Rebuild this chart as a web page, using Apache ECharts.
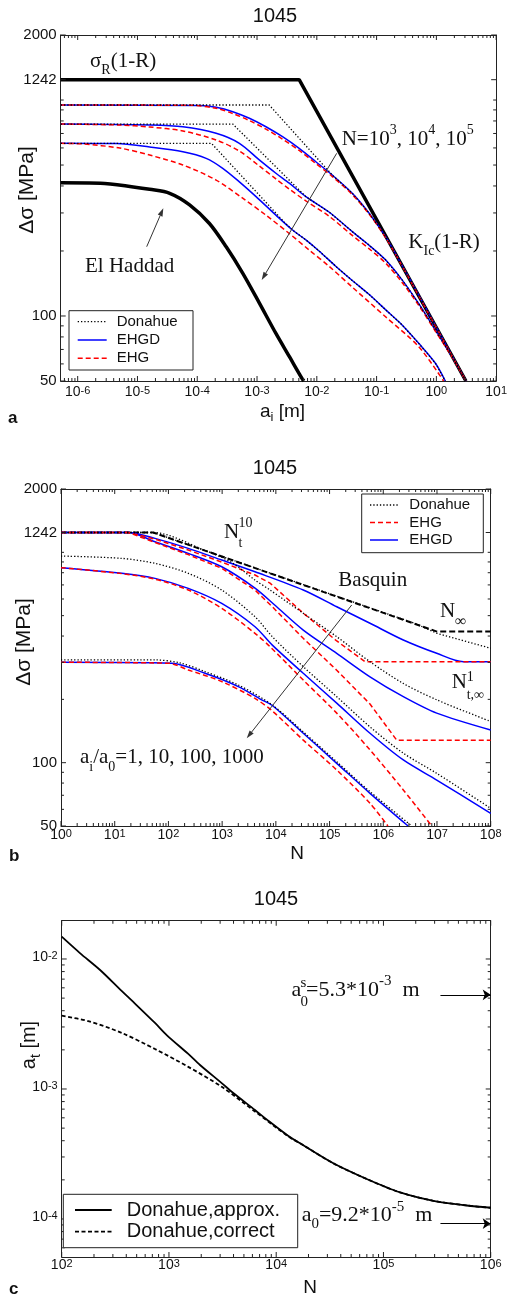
<!DOCTYPE html>
<html>
<head>
<meta charset="utf-8">
<script src="https://cdn.jsdelivr.net/npm/echarts@6/dist/echarts.min.js"></script>
<style>
  html, body { margin: 0; padding: 0; background: #fff; }
  #chart { width: 510px; height: 1297px; }
</style>
</head>
<body>
<div id="chart"></div>
<script>
// ---------------- Panel a: threshold stress range vs. initial crack length ----------------
const aXTicks = [1e-6, 1e-5, 1e-4, 1e-3, 1e-2, 1e-1, 1, 10];
const aYTicks = [50, 100, 1242, 2000];
const aLimit = [[5.2e-7,1242],[5.07e-3,1242],[3.12,50]];
const aElHaddad = [[5.2e-7,414],[2.4e-6,412],[8.5e-6,396],[1.6e-5,386],[3.46e-5,370],[7.45e-5,327],[1.6e-4,268],[3.05e-4,209],[5.75e-4,158],[1.09e-3,115],[2.07e-3,83],[3.46e-3,65],[5.75e-3,51],[6.1e-3,50]];
const aDonahueN3 = [[5.2e-7,948],[1.6e-3,948],[1.82e-2,449],[3.92e-2,370],[7.45e-2,300],[0.141,233],[0.275,169],[0.507,125],[3.12,50]];
const aEhgdN3 = [[5.2e-7,948],[1.09e-4,943],[2.07e-4,925],[3.93e-4,883],[7.45e-4,823],[1.41e-3,752],[2.67e-3,676],[5.07e-3,597],[9.63e-3,518],[1.82e-2,449],[3.92e-2,370],[7.45e-2,300],[0.141,233],[0.275,169],[0.507,125],[3.12,50]];
const aEhgN3 = [[5.2e-7,948],[8e-5,945],[2.07e-4,915],[3.93e-4,866],[7.45e-4,803],[1.41e-3,733],[2.67e-3,659],[5.07e-3,584],[9.63e-3,508],[1.82e-2,442],[3.92e-2,365],[7.45e-2,297],[0.141,231],[0.275,168],[0.507,124],[3.12,50]];
const aDonahueN4 = [[5.2e-7,774],[3.93e-4,774],[6.56e-3,357],[1.6e-2,303],[3.92e-2,246],[7.45e-2,213],[0.141,182],[0.267,147],[0.507,114],[0.964,86],[1.82,64.8],[3.12,50]];
const aEhgdN4 = [[5.2e-7,774],[1.6e-5,766],[5.75e-5,752],[2.07e-4,701],[5.07e-4,630],[1.09e-3,528],[2.07e-3,458],[3.46e-3,412],[6.56e-3,357],[1.6e-2,303],[3.92e-2,246],[7.45e-2,213],[0.141,182],[0.267,147],[0.507,114],[0.964,86],[1.82,64.8],[3.12,50]];
const aEhgN4 = [[5.2e-7,774],[5.07e-6,766],[1.6e-5,750],[5.75e-5,719],[2.07e-4,653],[5.07e-4,580],[1.09e-3,495],[2.07e-3,431],[3.46e-3,387],[6.56e-3,341],[1.6e-2,290],[3.92e-2,236],[7.45e-2,205],[0.141,176],[0.267,143],[0.507,112],[0.964,85],[1.82,64.6],[3.12,50]];
const aDonahueN5 = [[5.2e-7,630],[1.73e-4,630],[2.85e-3,272],[3.93e-3,250],[6.56e-3,225],[1.09e-2,200],[2.07e-2,170],[3.92e-2,146],[7.45e-2,126],[0.141,107],[0.267,90.9],[0.507,74.7],[0.964,60.4],[1.41,50]];
const aEhgdN5 = [[5.2e-7,630],[4.52e-6,629],[1.6e-5,606],[5.75e-5,576],[1.41e-4,537],[2.67e-4,483],[5.07e-4,418],[9.63e-4,357],[2.07e-3,293],[3.93e-3,250],[6.56e-3,225],[1.09e-2,200],[2.07e-2,170],[3.92e-2,146],[7.45e-2,126],[0.141,107],[0.267,90.9],[0.507,74.7],[0.964,60.4],[1.41,50]];
const aEhgN5 = [[5.2e-7,630],[1.23e-6,626],[5.07e-6,599],[1.6e-5,556],[5.75e-5,500],[2.07e-4,426],[5.75e-4,351],[1.41e-3,293],[3.46e-3,241],[7.45e-3,202],[1.6e-2,170],[3.92e-2,136],[0.141,99.2],[0.507,72.1],[1.32,50]];

// ---------------- Panel b: stress range vs. number of cycles ----------------
const bXTicks = [1, 10, 100, 1e3, 1e4, 1e5, 1e6, 1e7, 1e8];
const bYTicks = [50, 100, 1242, 2000];
const bBasquin = [[1,1242],[52,1242],[1e7,420],[1e8,420]];
const bDonahue1 = [[1,1242],[52,1242],[1e6,518],[4e6,458],[1e7,412],[3.6e7,376],[1e8,350]];
const bEhgd1 = [[1,1242],[17.9,1242],[56.2,1165],[234,1044],[982,919],[4093,808],[3.24e4,662],[1.36e5,551],[5.66e5,460],[2.36e6,383],[9.89e6,331],[3.09e7,302],[1e8,302]];
const bEhg1 = [[1,1242],[17.9,1242],[56.2,1156],[234,1025],[982,899],[4093,780],[7787,714],[3.24e4,514],[1.36e5,379],[4.57e5,302],[1e8,302]];
const bDonahue10 = [[1,1242],[52,1242],[500,1016],[1500,895],[4093,738],[7787,662],[3.24e4,513],[1.36e5,397],[5.66e5,302],[2.36e6,238],[9.89e6,199],[1e8,157]];
const bEhgd10 = [[1,1242],[17.9,1242],[56.2,1122],[234,989],[982,854],[4093,676],[9645,560],[3.24e4,427],[1.36e5,331],[5.66e5,256],[2.36e6,206],[9.89e6,172],[1e8,143]];
const bEhg10 = [[1,1242],[17.9,1242],[56.2,1115],[234,975],[982,840],[4093,662],[8600,551],[3.24e4,390],[1.36e5,275],[5.66e5,190],[1.78e6,128],[1e8,128]];
const bDonahue100 = [[1,960],[13.5,936],[56.2,886],[234,795],[982,662],[4093,494],[8600,397],[3.24e4,286],[1.36e5,206],[5.66e5,148],[2.36e6,111],[9.89e6,89],[1e8,60.7]];
const bEhgd100 = [[1,845],[13.5,795],[56.2,752],[234,674],[982,572],[4093,443],[8600,362],[3.24e4,266],[1.36e5,192],[5.66e5,138],[2.36e6,103],[9.89e6,82.7],[1e8,57.4]];
const bEhg100 = [[1,845],[13.5,792],[56.2,745],[234,662],[982,542],[4093,412],[7787,356],[3.24e4,247],[1.36e5,172],[5.66e5,115],[2.36e6,74.2],[8e6,50]];
const bDonahue1000 = [[1,308],[56.2,308],[164,298],[480,271],[2000,234],[8600,188],[3.24e4,140],[1.36e5,101],[5.66e5,72.8],[3.4e6,50]];
const bEhgd1000 = [[1,300],[115,297],[480,266],[2000,230],[5454,199],[8600,187],[3.24e4,138],[1.36e5,99.3],[5.66e5,71.5],[2.9e6,50]];
const bEhg1000 = [[1,300],[100,297],[234,276],[982,243],[4093,202],[8600,176],[3.24e4,128],[1.36e5,92.3],[5.66e5,64.1],[1.22e6,50]];

// ---------------- Panel c: transition crack length vs. number of cycles ----------------
const cXTicks = [100, 1e3, 1e4, 1e5, 1e6];
const cYTicks = [1e-4, 1e-3, 1e-2];
const cApprox = [[100,1.484e-2],[148,1.11e-2],[228,8.23e-3],[362,5.68e-3],[465,4.67e-3],[741,3.22e-3],[953,2.60e-3],[1514,1.86e-3],[1948,1.53e-3],[3102,1.11e-3],[3981,9.31e-4],[6339,6.89e-4],[8147,5.83e-4],[1.30e4,4.35e-4],[1.67e4,3.82e-4],[3.41e4,2.68e-4],[6.98e4,2.03e-4],[1.43e5,1.60e-4],[2.92e5,1.38e-4],[5.97e5,1.27e-4],[1e6,1.22e-4]];
const cCorrect = [[100,3.66e-3],[177,3.33e-3],[362,2.70e-3],[741,2.03e-3],[1514,1.48e-3],[3102,1.04e-3],[6339,6.71e-4],[1.30e4,4.31e-4],[1.67e4,3.82e-4],[3.41e4,2.68e-4],[6.98e4,2.03e-4],[1.43e5,1.60e-4],[2.92e5,1.38e-4],[5.97e5,1.27e-4],[1e6,1.22e-4]];
const cA0s = 5.3e-3;   // a0^s
const cA0 = 9.2e-5;    // a0

// ---------------- styling ----------------
const SANS = '"Liberation Sans", Arial, Helvetica, sans-serif';
const SERIF = '"Liberation Serif", "Times New Roman", Times, serif';
const INK = '#111';
const FRAME = '#222';
const K_SERIF = 0.3375, K_SANS = 0.3465;   // baseline offset from text middle, in em

const ST = {
  donahue: { color: '#000', width: 1.3, type: [1.3, 2] },
  ehgd:    { color: '#0000ff', width: 1.5, type: 'solid' },
  ehg:     { color: '#ff0000', width: 1.5, type: [5, 3] },
  heavy:   { color: '#000', width: 3.5, type: 'solid' },
  basquin: { color: '#000', width: 2, type: [6, 3] },
  approx:  { color: '#000', width: 1.8, type: 'solid' },
  correct: { color: '#000', width: 1.8, type: [4, 2.5] }
};

// minor ticks at 2..9 (and unlabelled decades) inside [min, max]
function logMinor(min, max, skip) {
  const out = [];
  for (let d = Math.floor(Math.log10(min)) - 1; d <= Math.ceil(Math.log10(max)); d++) {
    for (let k = 1; k <= 9; k++) {
      const v = parseFloat((k * Math.pow(10, d)).toPrecision(6));
      if (v >= min * 0.9999 && v <= max * 1.0001 && !skip.some(s => Math.abs(s - v) / v < 1e-6)) out.push(v);
    }
  }
  return out;
}

const powRich = {
  b: { fontSize: 14, fontFamily: SANS, lineHeight: 14, verticalAlign: 'bottom', color: INK },
  e: { fontSize: 11, fontFamily: SANS, lineHeight: 11, verticalAlign: 'top', padding: [0, 0, 10, 0], color: INK }
};
function powLabel(v) { return '{b|10}{e|' + Math.round(Math.log10(v)) + '}'; }

// labelled axis plus a plain mirrored axis for the box frame
function axisPair(dim, gridIndex, min, max, major, label) {
  const base = {
    type: 'log', logBase: 10, gridIndex, min, max, silent: true,
    splitLine: { show: false }, minorTick: { show: false }, minorSplitLine: { show: false },
    axisTick: { show: false },
    axisLine: { show: true, onZero: false, lineStyle: { color: FRAME, width: 1 } }
  };
  const p1 = dim === 'x' ? 'bottom' : 'left';
  const p2 = dim === 'x' ? 'top' : 'right';
  return [
    Object.assign({}, base, { position: p1, axisLabel: Object.assign({ show: true, customValues: major }, label) }),
    Object.assign({}, base, { position: p2, axisLabel: { show: false } })
  ];
}

const xLabelCfg = m => ({ formatter: powLabel, rich: powRich, margin: m, color: INK });
const yNumCfg = { formatter: v => String(v), fontSize: 15, fontFamily: SANS, color: INK, margin: 4 };
const yPowCfg = { formatter: powLabel, rich: powRich, margin: 4, padding: [0, 0, 4, 0], color: INK };

const xAxes = [].concat(
  axisPair('x', 0, 5.2e-7, 10, aXTicks, xLabelCfg(4.3)),
  axisPair('x', 1, 1, 1e8, bXTicks, xLabelCfg(2.6)),
  axisPair('x', 2, 100, 1e6, cXTicks, xLabelCfg(1.6))
);
const yAxes = [].concat(
  axisPair('y', 0, 50, 2000, aYTicks, yNumCfg),
  axisPair('y', 1, 50, 2000, bYTicks, yNumCfg),
  axisPair('y', 2, 5.1e-5, 1.97e-2, cYTicks, yPowCfg)
);

function curve(name, data, panel, style, z, smooth) {
  return {
    type: 'line', name, data, xAxisIndex: panel * 2, yAxisIndex: panel * 2,
    symbol: 'none', showSymbol: false, silent: true, z: z || 2, smooth: smooth || false,
    lineStyle: Object.assign({}, style), emphasis: { disabled: true }
  };
}
const SM = 0.3;

// inward tick marks (major 5px, minor 3px) on all four sides of a panel:
// thin rect symbols anchored on the frame edges and offset into the plot
function tickSeries(panel, xMin, xMax, xMajor, yMin, yMax, yMajor) {
  const items = [];
  const xt = (v, len) => {
    items.push({ value: [v, yMin], symbolSize: [1, len], symbolOffset: [0, -len / 2] });
    items.push({ value: [v, yMax], symbolSize: [1, len], symbolOffset: [0, len / 2] });
  };
  const yt = (v, len) => {
    items.push({ value: [xMin, v], symbolSize: [len, 1], symbolOffset: [len / 2, 0] });
    items.push({ value: [xMax, v], symbolSize: [len, 1], symbolOffset: [-len / 2, 0] });
  };
  xMajor.forEach(v => xt(v, 5));
  logMinor(xMin, xMax, xMajor).forEach(v => xt(v, 3));
  yMajor.forEach(v => yt(v, 5));
  logMinor(yMin, yMax, yMajor).forEach(v => yt(v, 3));
  return {
    type: 'scatter', xAxisIndex: panel * 2, yAxisIndex: panel * 2, data: items,
    symbol: 'rect', silent: true, clip: false, z: 20, animation: false, large: false,
    itemStyle: { color: FRAME, opacity: 1 }, emphasis: { disabled: true }
  };
}

const series = [
  tickSeries(0, 5.2e-7, 10, aXTicks, 50, 2000, aYTicks),
  tickSeries(1, 1, 1e8, bXTicks, 50, 2000, bYTicks),
  tickSeries(2, 100, 1e6, cXTicks, 5.1e-5, 1.97e-2, cYTicks),
  // panel a
  curve('σR(1-R), KIc(1-R)', aLimit, 0, ST.heavy, 3),
  curve('El Haddad', aElHaddad, 0, ST.heavy, 3, SM),
  curve('EHGD', aEhgdN3, 0, ST.ehgd, 4, SM), curve('EHGD', aEhgdN4, 0, ST.ehgd, 4, SM), curve('EHGD', aEhgdN5, 0, ST.ehgd, 4, SM),
  curve('EHG', aEhgN3, 0, ST.ehg, 5, SM), curve('EHG', aEhgN4, 0, ST.ehg, 5, SM), curve('EHG', aEhgN5, 0, ST.ehg, 5, SM),
  curve('Donahue', aDonahueN3, 0, ST.donahue, 6), curve('Donahue', aDonahueN4, 0, ST.donahue, 6), curve('Donahue', aDonahueN5, 0, ST.donahue, 6),
  // panel b
  curve('Basquin', bBasquin, 1, ST.basquin, 3),
  curve('EHGD', bEhgd1, 1, ST.ehgd, 4, SM), curve('EHGD', bEhgd10, 1, ST.ehgd, 4, SM), curve('EHGD', bEhgd100, 1, ST.ehgd, 4, SM), curve('EHGD', bEhgd1000, 1, ST.ehgd, 4, SM),
  curve('EHG', bEhg1, 1, ST.ehg, 5), curve('EHG', bEhg10, 1, ST.ehg, 5), curve('EHG', bEhg100, 1, ST.ehg, 5, SM), curve('EHG', bEhg1000, 1, ST.ehg, 5, SM),
  curve('Donahue', bDonahue1, 1, ST.donahue, 6), curve('Donahue', bDonahue10, 1, ST.donahue, 6, SM), curve('Donahue', bDonahue100, 1, ST.donahue, 6, SM), curve('Donahue', bDonahue1000, 1, ST.donahue, 6, SM),
  // panel c
  curve('Donahue,correct', cCorrect, 2, ST.correct, 4, SM),
  Object.assign(curve('Donahue,approx.', cApprox, 2, ST.approx, 5, SM), {
    markLine: {
      silent: true, animation: false, symbol: ['none', 'arrow'], symbolSize: 8,
      lineStyle: { color: '#000', width: 1, type: 'solid' }, label: { show: false },
      emphasis: { disabled: true },
      data: [
        [{ coord: [3.4e5, cA0s] }, { coord: [1e6, cA0s] }],
        [{ coord: [3.4e5, cA0] }, { coord: [1e6, cA0] }]
      ]
    }
  })
];

// ---------------- text and annotation helpers ----------------
function plain(x, base, text, size, family, extra) {
  const k = family === SERIF ? K_SERIF : K_SANS;
  const o = Object.assign({ align: 'left', weight: 'normal' }, extra || {});
  return {
    type: 'text', x, y: base - k * size, silent: true, z: 100,
    style: { text, fontSize: size, fontFamily: family, fontWeight: o.weight, fill: INK, align: o.align, verticalAlign: 'middle' }
  };
}
function mathRich(size) {
  return {
    m:  { fontFamily: SERIF, fontSize: size, lineHeight: 32, verticalAlign: 'middle', fill: INK },
    sb: { fontFamily: SERIF, fontSize: Math.round(size * 0.68), lineHeight: 10, verticalAlign: 'bottom', fill: INK },
    sp: { fontFamily: SERIF, fontSize: Math.round(size * 0.68), lineHeight: 22, verticalAlign: 'top', fill: INK }
  };
}
function math(x, base, text, size, align) {
  return {
    type: 'text', x, y: base - (16 + K_SERIF * size), silent: true, z: 100,
    style: { text, rich: mathRich(size), align: align || 'left', verticalAlign: 'top' }
  };
}
function sansRich(size) {
  return {
    b: { fontFamily: SANS, fontSize: size, lineHeight: 26, verticalAlign: 'middle', fill: INK },
    s: { fontFamily: SANS, fontSize: Math.round(size * 0.68), lineHeight: 8, verticalAlign: 'bottom', fill: INK }
  };
}
function rotated(cx, cy, text, richDef) {
  return {
    type: 'text', x: cx, y: cy, rotation: Math.PI / 2, silent: true, z: 100,
    style: richDef ? { text, rich: richDef, align: 'center', verticalAlign: 'middle' }
                   : { text, fontSize: 21, fontFamily: SANS, fill: INK, align: 'center', verticalAlign: 'middle' }
  };
}
function arrow(x1, y1, x2, y2) {
  const dx = x2 - x1, dy = y2 - y1, L = Math.hypot(dx, dy), ux = dx / L, uy = dy / L;
  const len = 8, half = 2.6, bx = x2 - ux * len, by = y2 - uy * len;
  return [
    { type: 'line', silent: true, z: 90, shape: { x1, y1, x2: bx, y2: by }, style: { stroke: '#333', lineWidth: 1 } },
    { type: 'polygon', silent: true, z: 90, shape: { points: [[x2, y2], [bx - uy * half, by + ux * half], [bx + uy * half, by - ux * half]] }, style: { fill: '#333' } }
  ];
}
function legendBox(x, y, w, h, rows, lineX1, lineX2, textX, size) {
  const els = [{ type: 'rect', silent: true, z: 110, shape: { x, y, width: w, height: h }, style: { fill: '#fff', stroke: '#222', lineWidth: 1 } }];
  rows.forEach(r => {
    els.push({ type: 'line', silent: true, z: 111, shape: { x1: lineX1, y1: r.y, x2: lineX2, y2: r.y },
      style: { stroke: r.style.color, lineWidth: r.style.width, lineDash: Array.isArray(r.style.type) ? r.style.type : null } });
    els.push({ type: 'text', silent: true, z: 111, x: textX, y: r.y,
      style: { text: r.label, fontSize: size, fontFamily: SANS, fill: INK, align: 'left', verticalAlign: 'middle' } });
  });
  return els;
}

const graphics = [].concat(
  // titles
  plain(275, 23.3, '1045', 20, SANS, { align: 'center' }),
  plain(275, 475, '1045', 20, SANS, { align: 'center' }),
  plain(276, 906.7, '1045', 20, SANS, { align: 'center' }),
  // panel letters
  plain(8, 424, 'a', 17, SANS, { weight: 'bold' }),
  plain(9, 862, 'b', 17, SANS, { weight: 'bold' }),
  plain(9, 1295, 'c', 17, SANS, { weight: 'bold' }),
  // axis names
  rotated(27.5, 190, 'Δσ [MPa]'),
  rotated(24, 642, 'Δσ [MPa]'),
  rotated(29.7, 1045, '{b|a}{s|t}{b| [m]}', sansRich(20)),
  { type: 'text', x: 282.5, y: 418 - (13 + K_SANS * 19), silent: true, z: 100,
    style: { text: '{b|a}{s|i}{b| [m]}', rich: sansRich(19), align: 'center', verticalAlign: 'top' } },
  plain(297, 860, 'N', 19, SANS, { align: 'center' }),
  plain(310, 1294, 'N', 19, SANS, { align: 'center' }),

  // panel a annotations
  math(90, 68.3, '{m|σ}{sb|R}{m|(1-R)}', 21),
  math(341.7, 146.7, '{m|N=10}{sp|3}{m|, 10}{sp|4}{m|, 10}{sp|5}', 21),
  math(408.3, 249.5, '{m|K}{sb|Ic}{m|(1-R)}', 21),
  math(85, 273.3, '{m|El Haddad}', 21),
  arrow(146.7, 246.7, 163.3, 208.3),
  arrow(336.7, 153.3, 261.7, 280),
  legendBox(69, 310.7, 124, 59.3, [
    { y: 321.7, label: 'Donahue', style: ST.donahue },
    { y: 340, label: 'EHGD', style: ST.ehgd },
    { y: 358.3, label: 'EHG', style: ST.ehg }
  ], 77.7, 106.7, 116.7, 15),

  // panel b annotations
  plain(224, 540, 'N', 21, SERIF),
  plain(238.5, 548.5, 't', 14, SERIF),
  plain(238.5, 528, '10', 14, SERIF),
  math(338.3, 588, '{m|Basquin}', 21),
  arrow(351.7, 605, 246.7, 738.3),
  plain(440, 618.3, 'N', 21, SERIF),
  plain(455, 627, '∞', 16, SERIF),
  plain(451.7, 690, 'N', 21, SERIF),
  plain(466.7, 682, '1', 14, SERIF),
  plain(466.7, 700, 't,∞', 14, SERIF),
  math(80, 765, '{m|a}{sb|i}{m|/a}{sb|0}{m|=1, 10, 100, 1000}', 21),
  legendBox(361.7, 494, 121.6, 58.7, [
    { y: 505, label: 'Donahue', style: ST.donahue },
    { y: 522.5, label: 'EHG', style: ST.ehg },
    { y: 540, label: 'EHGD', style: ST.ehgd }
  ], 370, 398, 409.3, 15),

  // panel c annotations
  plain(291.5, 997.3, 'a', 22, SERIF),
  plain(300.5, 988, 's', 15, SERIF),
  plain(300.5, 1006.7, '0', 15, SERIF),
  math(306, 997.3, '{m|=5.3*10}{sp|-3}{m|  m}', 22),
  math(301.7, 1223, '{m|a}{sb|0}{m|=9.2*10}{sp|-5}{m|  m}', 22),
  legendBox(63.3, 1194.3, 234.4, 53.4, [
    { y: 1210, label: 'Donahue,approx.', style: ST.approx },
    { y: 1231.7, label: 'Donahue,correct', style: ST.correct }
  ], 75, 111.7, 126.7, 20)
);

const chart = echarts.init(document.getElementById('chart'), null, { renderer: 'canvas' });
chart.setOption({
  animation: false,
  backgroundColor: '#fff',
  grid: [
    { left: 60.7, top: 35, width: 437, height: 346 },
    { left: 61, top: 489, width: 429.7, height: 337 },
    { left: 61.7, top: 920.7, width: 429, height: 336.3 }
  ],
  xAxis: xAxes,
  yAxis: yAxes,
  series,
  graphic: { elements: graphics }
});
</script>
</body>
</html>
